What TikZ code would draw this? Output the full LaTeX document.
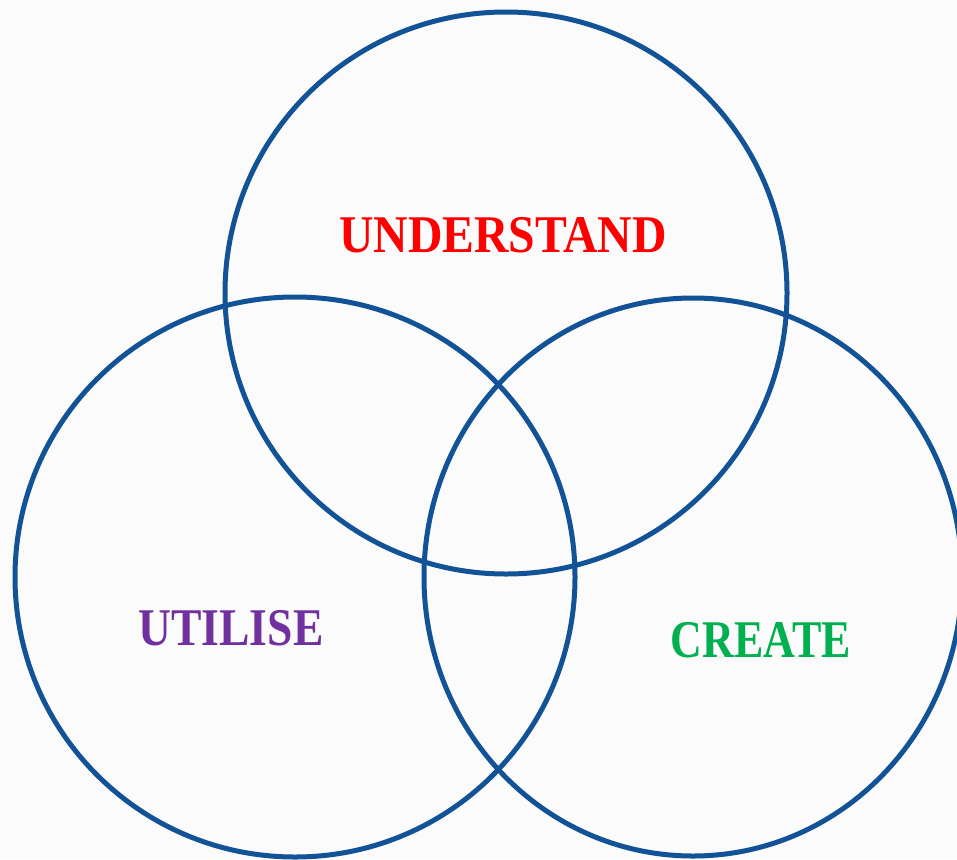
\documentclass[tikz,border=0pt]{standalone}
\usepackage{fontspec}
\setmainfont{Liberation Serif}
\definecolor{ringblue}{RGB}{18,82,150}
\definecolor{redtxt}{RGB}{255,0,0}
\definecolor{purptxt}{RGB}{112,48,160}
\definecolor{greentxt}{RGB}{0,176,80}
\definecolor{bgc}{RGB}{251,251,251}
\tikzset{
  ring/.style={draw=ringblue, line width=5pt},
  lbl/.style={font=\fontsize{53}{60}\selectfont\bfseries, inner sep=0pt, anchor=center}
}
\begin{document}
\begin{tikzpicture}[x=1pt,y=-1pt]
\useasboundingbox (0,0) rectangle (957,859);
\fill[bgc] (0,0) rectangle (957,859);
\begin{scope}
\clip (0,0) rectangle (957,859);
\draw[ring] (506,293) circle [radius=281];
\draw[ring] (295,577) circle [radius=280];
\draw[ring] (693,577) ellipse [x radius=269, y radius=279];
\end{scope}
\node[lbl, text=redtxt] (und) at (503,235) {\scalebox{0.9}[1]{UNDERSTAND}};
\node[lbl, text=purptxt] (uti) at (231,628) {\scalebox{0.86}[1]{UTILISE}};
\node[lbl, text=greentxt] (cre) at (761,640) {\scalebox{0.83}[1]{CREATE}};
\end{tikzpicture}
\end{document}
